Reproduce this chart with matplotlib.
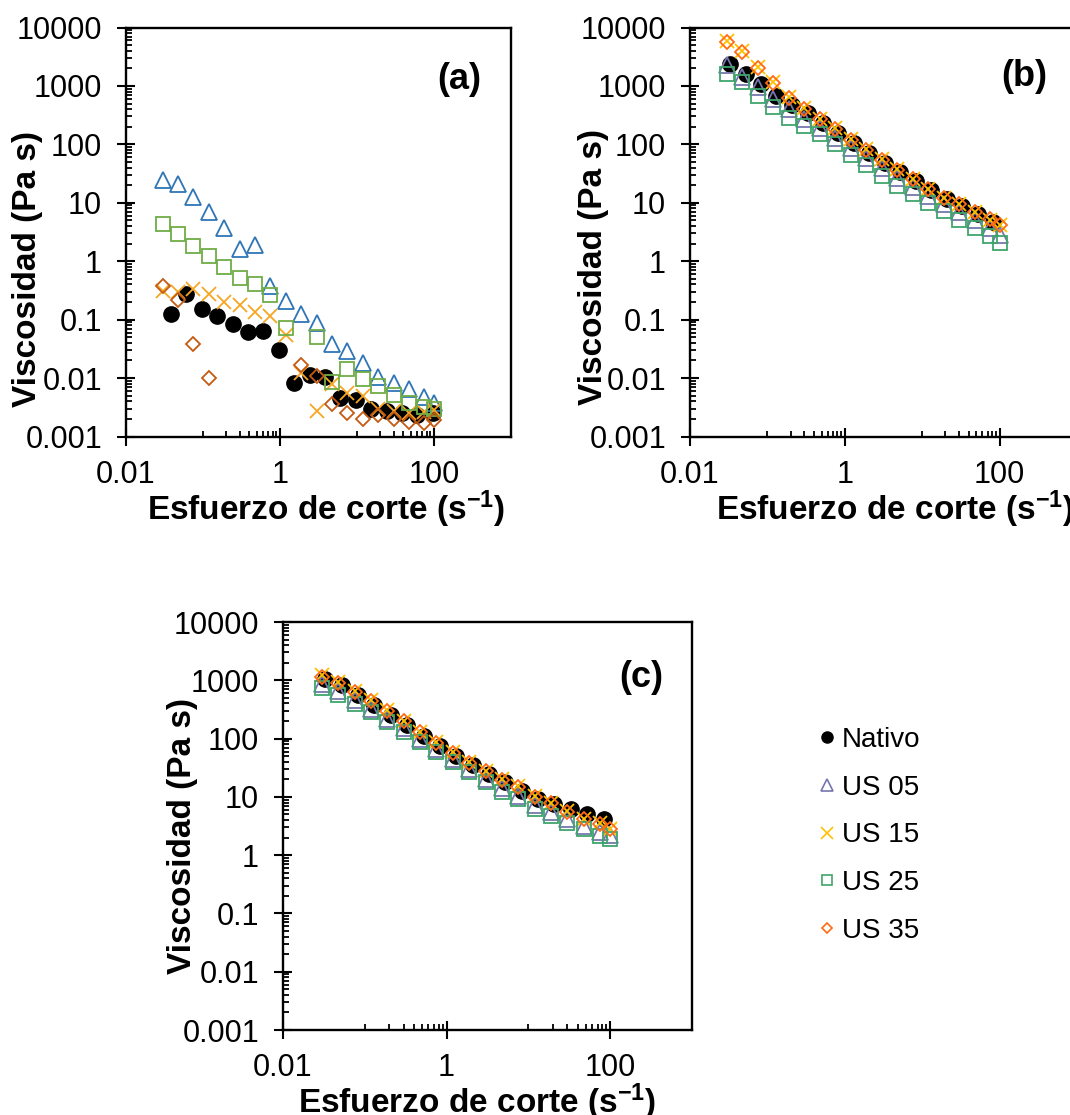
import matplotlib
matplotlib.use("Agg")
import matplotlib.pyplot as plt
from matplotlib.lines import Line2D
from matplotlib.ticker import FixedLocator, FixedFormatter, NullFormatter

plt.rcParams['font.family'] = ['Liberation Sans', 'DejaVu Sans']
plt.rcParams['mathtext.fontset'] = 'custom'
plt.rcParams['mathtext.rm'] = 'Liberation Sans'
plt.rcParams['mathtext.bf'] = 'Liberation Sans:bold'
plt.rcParams['mathtext.default'] = 'bf'

# ---------------- data ----------------
series_names = ["Nativo", "US 05", "US 15", "US 25", "US 35"]

x_std = [0.03, 0.0475, 0.0752, 0.119, 0.189, 0.3, 0.475, 0.752, 1.19, 1.89,
         3.0, 4.75, 7.52, 11.9, 18.9, 30.0, 47.5, 75.2, 100]

# panel (a)
x_nat_a = [0.0384, 0.0608, 0.0964, 0.153, 0.242, 0.384, 0.608, 0.964, 1.53,
           2.42, 3.84, 6.08, 9.64, 15.3, 24.2, 38.4, 60.8, 96.4]
y_nat_a = [0.126, 0.28, 0.153, 0.115, 0.083, 0.062, 0.063, 0.030, 0.0081,
           0.0112, 0.0105, 0.0045, 0.0042, 0.0030, 0.0027, 0.0025, 0.0023, 0.0025]
y_us05_a = [24.3, 20.8, 12.6, 7.0, 3.7, 1.62, 1.87, 0.37, 0.208, 0.123, 0.088,
            0.039, 0.029, 0.018, 0.0105, 0.0081, 0.0064, 0.0047, 0.0038]
y_us15_a = [0.307, 0.295, 0.337, 0.27, 0.20, 0.175, 0.135, 0.114, 0.054, 0.012,
            0.0027, 0.0078, 0.0055, 0.0049, 0.0030, 0.0027, 0.0025, 0.0026, 0.0028]
x_us25_a = [0.03, 0.0475, 0.0752, 0.119, 0.189, 0.3, 0.475, 0.752, 1.19,
            3.0, 4.75, 7.52, 11.9, 18.9, 30.0, 47.5, 75.2, 100]
y_us25_a = [4.33, 2.92, 1.85, 1.23, 0.79, 0.51, 0.41, 0.26, 0.073,
            0.051, 0.0084, 0.0144, 0.0095, 0.0073, 0.0051, 0.0038, 0.0032, 0.0030]
x_us35_a = [0.03, 0.0475, 0.0752, 0.119, 1.89, 3.0, 4.75, 7.52, 11.9, 18.9,
            30.0, 47.5, 75.2, 100]
y_us35_a = [0.37, 0.215, 0.039, 0.0102, 0.0168, 0.0107, 0.0036, 0.0025, 0.0020,
            0.0023, 0.0020, 0.0018, 0.0017, 0.0019]

# panels (b) and (c)
x_nat_bc = [0.033, 0.0523, 0.0829, 0.131, 0.208, 0.33, 0.523, 0.829, 1.31,
            2.08, 3.3, 5.23, 8.29, 13.1, 20.8, 33.0, 52.3, 82.9]
y_nat_b = [2380, 1600, 1080, 679, 470, 338, 230, 155, 107, 72.3, 48.7, 33.6,
           23.6, 16.5, 11.7, 8.75, 6.46, 4.64]
y_us05_b = [2300, 1450, 950, 600, 400, 275, 190, 128, 86, 58, 39.5, 27, 18.8,
            13.2, 9.4, 6.9, 5.0, 3.7, 2.8]
y_us15_b = [5980, 4030, 2080, 1150, 636, 412, 277, 187, 122, 84.6, 55.5, 37.3,
            25.8, 17.4, 12.2, 9.35, 6.9, 5.17, 4.24]
y_us25_b = [1600, 1150, 679, 440, 288, 207, 153, 100, 65, 43.8, 28.7, 19.3,
            13.9, 10, 7.2, 5.03, 3.72, 2.67, 2.05]
y_us35_b = [5600, 3850, 2000, 1120, 615, 400, 268, 182, 120, 80, 53, 36, 25.5,
            17.2, 12, 9.5, 7.0, 5.3, 4.2]

y_nat_c = [1050, 841, 551, 380, 249, 168, 110, 73.8, 50.9, 35.2, 24.6, 17.7,
           12.7, 9.35, 7.48, 6.12, 5.02, 4.23]
y_us05_c = [850, 650, 450, 320, 220, 150, 100, 66, 44, 30, 20.5, 14.2, 10.4,
            7.3, 5.4, 4.2, 3.2, 2.5, 2.2]
y_us15_c = [1220, 936, 645, 452, 304, 204, 132, 86.5, 58.1, 39.1, 28.1, 20.2,
            15.1, 10.4, 8.0, 5.7, 4.23, 3.52, 2.84]
y_us25_c = [738, 566, 396, 284, 196, 132, 88.8, 58.1, 39.1, 26.3, 17.7, 12.2,
            9.1, 6.3, 4.7, 3.6, 2.77, 2.13, 1.86]
y_us35_c = [1150, 900, 620, 440, 295, 198, 128, 84, 57, 38, 27.5, 19.5, 14.5,
            10.0, 7.7, 5.5, 4.1, 3.4, 2.8]

x_major = [0.01, 1, 100]
x_major_labels = ["0.01", "1", "100"]
x_minor = [0.1, 0.2, 0.3, 0.4, 0.5, 0.6, 0.7, 0.8, 0.9,
           10, 20, 30, 40, 50, 60, 70, 80, 90]
y_major = [0.001, 0.01, 0.1, 1, 10, 100, 1000, 10000]
y_major_labels = ["0.001", "0.01", "0.1", "1", "10", "100", "1000", "10000"]

xlabel = "Esfuerzo de corte (s$^{-1}$)"
ylabel = "Viscosidad (Pa s)"

# ---------------- styles ----------------
col_a = {"US 05": "#2E75B6", "US 15": "#F5A623", "US 25": "#70AD47", "US 35": "#C55A11"}
col_bc = {"US 05": "#7676AE", "US 15": "#FFC000", "US 25": "#3FA56B", "US 35": "#FF6A13"}
mk = {"Nativo": "o", "US 05": "^", "US 15": "x", "US 25": "s", "US 35": "D"}
ms = {"Nativo": 11, "US 05": 11, "US 15": 10.5, "US 25": 10.5, "US 35": 7.2}

fig = plt.figure(figsize=(10.7, 11.15), dpi=100)
W, H = 1070.0, 1115.0

def make_ax(left, top, right, bottom):
    return fig.add_axes([left / W, 1 - bottom / H, (right - left) / W, (bottom - top) / H])

ax_a = make_ax(126, 27.5, 511, 436.5)
ax_b = make_ax(690, 27.5, 1077, 436.5)
ax_c = make_ax(283, 622, 692, 1030)

def style_axis(ax, ylab_xy, xlab_xy, tag, tag_xy):
    ax.set_xscale('log')
    ax.set_yscale('log')
    ax.set_xlim(0.01, 1000)
    ax.set_ylim(0.001, 10000)
    for s in ax.spines.values():
        s.set_linewidth(1.7)
        s.set_color('black')
    ax.xaxis.set_major_locator(FixedLocator(x_major))
    ax.xaxis.set_major_formatter(FixedFormatter(x_major_labels))
    ax.xaxis.set_minor_locator(FixedLocator(x_minor))
    ax.xaxis.set_minor_formatter(NullFormatter())
    ax.yaxis.set_major_locator(FixedLocator(y_major))
    ax.yaxis.set_major_formatter(FixedFormatter(y_major_labels))
    ymin = []
    for d in y_major[:-1]:
        for m in range(2, 10):
            ymin.append(d * m)
    ax.yaxis.set_minor_locator(FixedLocator(ymin))
    ax.yaxis.set_minor_formatter(NullFormatter())
    ax.tick_params(axis='both', which='major', direction='inout', length=12.5,
                   width=1.5, labelsize=22, colors='black')
    ax.tick_params(axis='x', which='major', pad=10.5)
    ax.tick_params(axis='y', which='major', pad=11)
    ax.tick_params(axis='both', which='minor', direction='in', length=4.5, width=1.3)
    ax.tick_params(top=False, right=False, which='both')
    ax.text(ylab_xy[0], ylab_xy[1], ylabel, rotation=90, ha='center', va='center',
            fontsize=24, fontweight='bold', transform=ax.transAxes)
    ax.text(xlab_xy[0], xlab_xy[1], xlabel, ha='center', va='center',
            fontsize=24, fontweight='bold', transform=ax.transAxes)
    ax.text(tag_xy[0], tag_xy[1], tag, ha='center', va='center',
            fontsize=26, fontweight='bold', transform=ax.transAxes)

def plot_series(ax, x, y, name, color):
    if name == "Nativo":
        ax.plot(x, y, linestyle='none', marker='o', ms=ms[name], mfc='black',
                mec='black', clip_on=False)
    elif name == "US 15":
        ax.plot(x, y, linestyle='none', marker='x', ms=ms[name], mec=color,
                mew=1.3, clip_on=False)
    else:
        ax.plot(x, y, linestyle='none', marker=mk[name], ms=ms[name], mfc='none',
                mec=color, mew=1.3, clip_on=False)

# panel (a)
plot_series(ax_a, x_nat_a, y_nat_a, "Nativo", "black")
plot_series(ax_a, x_std, y_us05_a, "US 05", col_a["US 05"])
plot_series(ax_a, x_std, y_us15_a, "US 15", col_a["US 15"])
plot_series(ax_a, x_us25_a, y_us25_a, "US 25", col_a["US 25"])
plot_series(ax_a, x_us35_a, y_us35_a, "US 35", col_a["US 35"])
style_axis(ax_a, (-0.257, 0.41), (0.52, -0.177), "(a)", (0.865, 0.872))

# panel (b)
plot_series(ax_b, x_nat_bc, y_nat_b, "Nativo", "black")
plot_series(ax_b, x_std, y_us05_b, "US 05", col_bc["US 05"])
plot_series(ax_b, x_std, y_us15_b, "US 15", col_bc["US 15"])
plot_series(ax_b, x_std, y_us25_b, "US 25", col_bc["US 25"])
plot_series(ax_b, x_std, y_us35_b, "US 35", col_bc["US 35"])
style_axis(ax_b, (-0.25, 0.415), (0.53, -0.177), "(b)", (0.863, 0.879))

# panel (c)
plot_series(ax_c, x_nat_bc, y_nat_c, "Nativo", "black")
plot_series(ax_c, x_std, y_us05_c, "US 05", col_bc["US 05"])
plot_series(ax_c, x_std, y_us15_c, "US 15", col_bc["US 15"])
plot_series(ax_c, x_std, y_us25_c, "US 25", col_bc["US 25"])
plot_series(ax_c, x_std, y_us35_c, "US 35", col_bc["US 35"])
style_axis(ax_c, (-0.245, 0.475), (0.474, -0.177), "(c)", (0.875, 0.863))

# legend
handles = [
    Line2D([], [], linestyle='none', marker='o', ms=8, mfc='black', mec='black'),
    Line2D([], [], linestyle='none', marker='^', ms=8, mfc='none', mec=col_bc["US 05"], mew=1.2),
    Line2D([], [], linestyle='none', marker='x', ms=8, mec=col_bc["US 15"], mew=1.2),
    Line2D([], [], linestyle='none', marker='s', ms=7.5, mfc='none', mec=col_bc["US 25"], mew=1.2),
    Line2D([], [], linestyle='none', marker='D', ms=5.5, mfc='none', mec=col_bc["US 35"], mew=1.2),
]
fig.legend(handles, series_names, loc='center left', bbox_to_anchor=(817 / W, 1 - 835.3 / H),
           frameon=False, fontsize=20, handlelength=0.7, handletextpad=0.2,
           labelspacing=0.78, borderpad=0, borderaxespad=0)

fig.savefig("out.png", dpi=100)
